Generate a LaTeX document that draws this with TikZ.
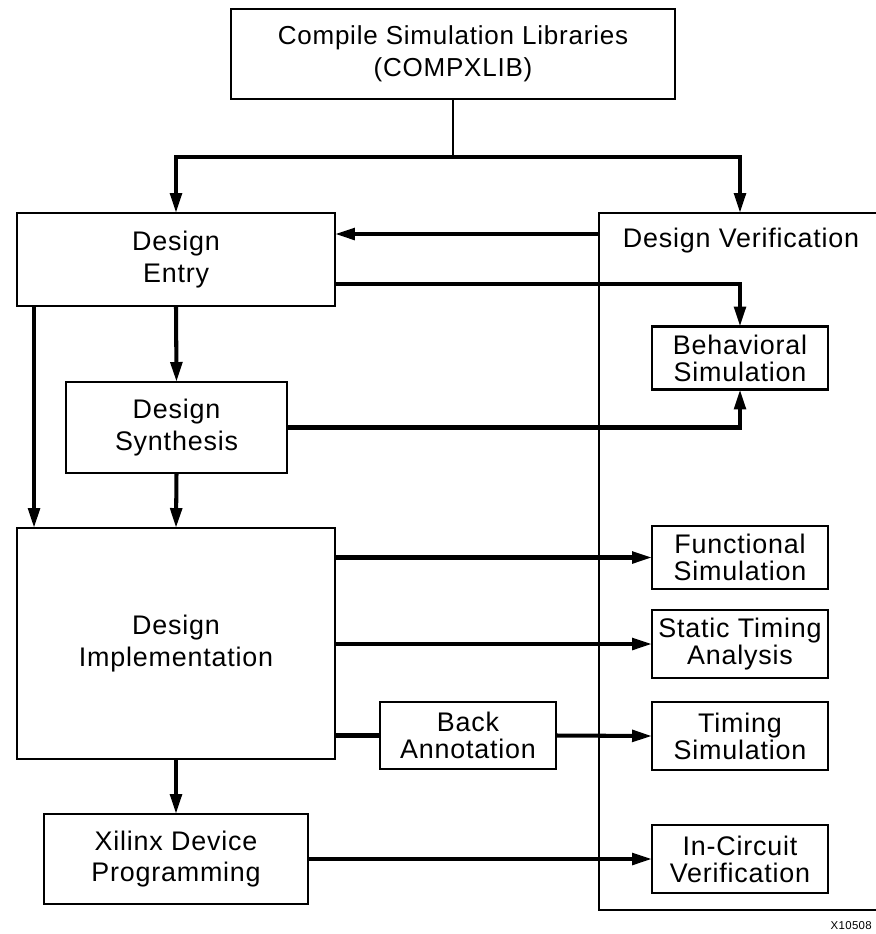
\documentclass[tikz,border=0pt]{standalone}
\usepackage{fontspec}
\setmainfont{Liberation Sans}[LetterSpace=3]
\usetikzlibrary{arrows.meta,positioning}

\begin{document}
\begin{tikzpicture}[
  x=0.02cm, y=-0.02cm,
  >={Triangle[length=4mm,width=2.3mm]},
  font=\fontsize{15.3}{18}\selectfont,
  baseBox/.style={draw=black, line width=1.6pt, align=center, inner sep=0pt, outer sep=0pt},
  flowBox/.style={baseBox, font=\fontsize{15.3}{18}\selectfont},
  simBox/.style={baseBox, minimum width=3.52cm, minimum height=1.36cm, font=\fontsize{15.3}{15.3}\selectfont},
  frameBox/.style={draw=black, line width=1.2pt, inner sep=0pt, outer sep=0pt},
  thinLine/.style={line width=1.2pt},
  conn/.style={line width=2.3pt}
]
\clip (0,0) rectangle (876,934);

% verification frame, open to the right
\node[frameBox, minimum width=6.3cm, minimum height=13.94cm, anchor=north west] (verif) at (599,213) {};
\node (verifTitle) at (741,241) {Design Verification};

\node[flowBox, minimum width=8.88cm, minimum height=1.8cm, font=\fontsize{14.8}{18}\selectfont] (compile) at (453,54) {Compile Simulation Libraries\\(COMPXLIB)};
\node[flowBox, minimum width=6.36cm, minimum height=1.86cm] (entry) at (176,259.5) {Design\\Entry};
\node[flowBox, minimum width=4.42cm, minimum height=1.82cm] (synth) at (176.5,427.5) {Design\\Synthesis};
\node[flowBox, minimum width=6.36cm, minimum height=4.62cm] (impl) at (176,643.5) {Design\\Implementation};
\node[flowBox, minimum width=5.28cm, minimum height=1.8cm] (xilinx) at (176,859) {Xilinx Device\\Programming};
\node[simBox, minimum height=1.34cm] (backAnn) at (468,735.5) {Back\\Annotation};

\node[simBox, minimum height=1.26cm] (behav) at (740,358) {Behavioral\\Simulation};
\node[simBox, minimum height=1.26cm] (func) at (740,557.5) {Functional\\Simulation};
\node[simBox] (sta) at (740,644) {Static Timing\\Analysis};
\node[simBox] (timing) at (740,736) {Timing\\Simulation};
\node[simBox] (inCirc) at (740,859) {In-Circuit\\Verification};

\node[font=\fontsize{6.5}{8}\selectfont, anchor=east] (figId) at (878,926) {X10508};

% libraries feed entry and verification
\coordinate (split) at (453,157);
\draw[thinLine] (compile.south) -- (split);
\draw[conn,->] (split) -| (entry.north);
\draw[conn,->] (split) -| (verif.north -| behav.north);

\draw[conn,->] ([yshift=0.51cm]entry.east -| verif.west) -- ([yshift=0.51cm]entry.east);
\draw[conn,->] ([yshift=-0.49cm]entry.east) -| (behav.north);
\draw[conn,->] (synth.east) -| (behav.south);

\draw[conn,->] (entry.south) -- (synth.north);
\draw[conn,->] ([xshift=0.34cm]entry.south west) -- ([xshift=0.34cm]impl.north west);
\draw[conn,->] (synth.south) -- (impl.north);

\draw[conn,->] (impl.east |- func.west) -- (func.west);
\draw[conn,->] (impl.east |- sta.west) -- (sta.west);
\draw[conn] (impl.east |- backAnn.west) -- (backAnn.west);
\draw[conn,->] (backAnn.east) -- (timing.west);
\draw[conn,->] (impl.south) -- (xilinx.north);
\draw[conn,->] (xilinx.east) -- (inCirc.west);
\end{tikzpicture}
\end{document}
